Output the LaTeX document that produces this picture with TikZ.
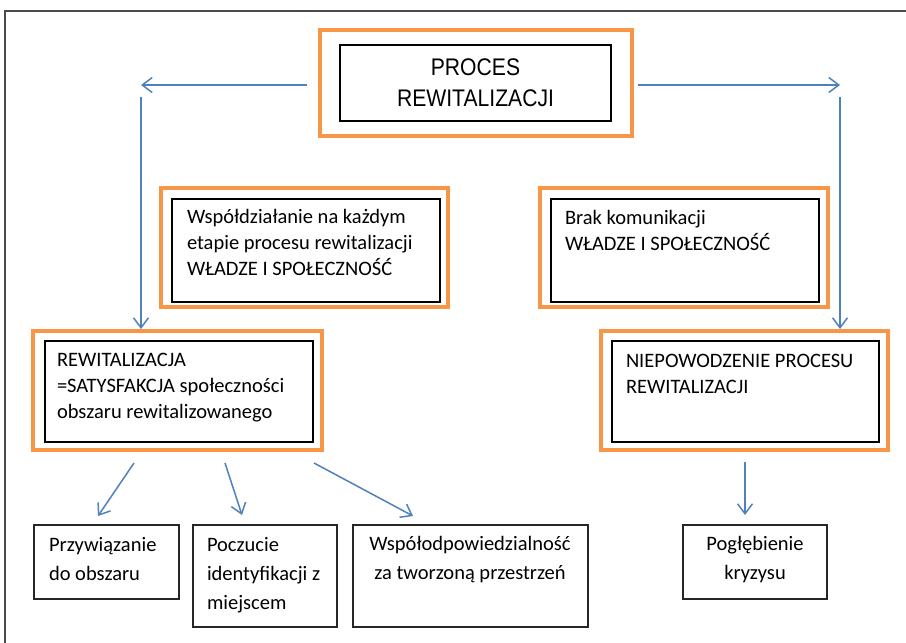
\documentclass[tikz,border=0pt]{standalone}
\usepackage{fontspec}
\setmainfont{Carlito}
\newfontfamily\narrowfont[FakeStretch=0.88]{Liberation Sans}
\usetikzlibrary{arrows.meta}
\definecolor{orangeline}{HTML}{F79646}
\definecolor{bluearrow}{HTML}{4F81BD}
\definecolor{framegray}{HTML}{4A4A4A}
\tikzset{
  obox/.style={draw=orangeline, line width=4pt, inner sep=0pt, outer sep=0pt, anchor=north west},
  ibox/.style={draw=black, line width=1.3pt, inner sep=0pt, outer sep=0pt, anchor=north west},
  bbox/.style={draw=black!85, line width=1.5pt, inner sep=0pt, outer sep=0pt, anchor=north west},
  midtxt/.style={inner sep=0pt, outer sep=0pt, align=left, anchor=north west, font=\fontsize{20.5}{26}\selectfont},
  lowtxt/.style={inner sep=0pt, outer sep=0pt, font=\fontsize{20.5}{29}\selectfont},
  arr/.style={draw=bluearrow, line width=1.5pt, -{Straight Barb[length=10pt, width=15pt, line width=1.5pt]}}
}
\begin{document}
\begin{tikzpicture}[x=1pt, y=-1pt]
\useasboundingbox (0,0) rectangle (906,643);
\fill[white] (0,0) rectangle (906,643);
% frame
\draw[framegray, line width=1.5pt] (5,643) -- (5,11) -- (906,11);

% top box
\node[obox, minimum width=312pt, minimum height=106pt] (o0) at (320,30) {};
\node[ibox, minimum width=271pt, minimum height=76pt] (i0) at (340,45) {};
\node[inner sep=0pt, outer sep=0pt, align=center, anchor=north, font=\narrowfont\fontsize{24}{31}\selectfont] (t0) at (475.5,53.3) {\strut PROCES\\REWITALIZACJI};

% middle left
\node[obox, minimum width=287pt, minimum height=119pt] (o1) at (161,188) {};
\node[ibox, minimum width=268pt, minimum height=103pt] (i1) at (172,199) {};
\node[midtxt] (t1) at (187,204.8) {\strut Współdziałanie na każdym\\etapie procesu rewitalizacji\\WŁADZE I SPOŁECZNOŚĆ};

% middle right
\node[obox, minimum width=288pt, minimum height=119pt] (o2) at (540,188) {};
\node[ibox, minimum width=268pt, minimum height=103pt] (i2) at (551,199) {};
\node[midtxt] (t2) at (565,205.8) {\strut Brak komunikacji\\WŁADZE I SPOŁECZNOŚĆ};

% lower left
\node[obox, minimum width=289pt, minimum height=119pt] (o3) at (33,331) {};
\node[ibox, minimum width=268pt, minimum height=101pt] (i3) at (45,341) {};
\node[midtxt] (t3) at (57,348.3) {\strut REWITALIZACJA\\=SATYSFAKCJA społeczności\\obszaru rewitalizowanego};

% lower right
\node[obox, minimum width=287pt, minimum height=119pt] (o4) at (601,331) {};
\node[ibox, minimum width=267pt, minimum height=101pt] (i4) at (612,341) {};
\node[midtxt] (t4) at (626,348.8) {\strut NIEPOWODZENIE PROCESU\\REWITALIZACJI};

% bottom boxes
\node[bbox, minimum width=145pt, minimum height=74pt] (b1) at (34,525) {};
\node[lowtxt, align=left, anchor=north west] (u1) at (49,530.7) {\strut Przywiązanie\\do obszaru};
\node[bbox, minimum width=144pt, minimum height=102pt] (b2) at (193,525) {};
\node[lowtxt, align=left, anchor=north west] (u2) at (207,530.7) {\strut Poczucie\\identyfikacji z\\miejscem};
\node[bbox, minimum width=235pt, minimum height=102pt] (b3) at (353,525) {};
\node[lowtxt, align=center, anchor=north] (u3) at (470,530.2) {\strut Współodpowiedzialność\\za tworzoną przestrzeń};
\node[bbox, minimum width=144pt, minimum height=74pt] (b4) at (683,525) {};
\node[lowtxt, align=center, anchor=north] (u4) at (755,530.2) {\strut Pogłębienie\\kryzysu};

% arrow endpoints
\coordinate (s1) at (307,85);
\coordinate (e1) at (141,85);
\coordinate (s2) at (141,97);
\coordinate (e2) at (141,329);
\coordinate (s3) at (638,85);
\coordinate (e3) at (840,85);
\coordinate (s4) at (840,97);
\coordinate (e4) at (840,329);
\coordinate (s5) at (134,463);
\coordinate (e5) at (98,516);
\coordinate (s6) at (225,463);
\coordinate (e6) at (242,515);
\coordinate (s7) at (314,463);
\coordinate (e7) at (413,516);
\coordinate (s8) at (745,462);
\coordinate (e8) at (745,515);

\draw[arr] (s1) -- (e1);
\draw[arr] (s2) -- (e2);
\draw[arr] (s3) -- (e3);
\draw[arr] (s4) -- (e4);
\draw[arr] (s5) -- (e5);
\draw[arr] (s6) -- (e6);
\draw[arr] (s7) -- (e7);
\draw[arr] (s8) -- (e8);
\end{tikzpicture}
\end{document}
